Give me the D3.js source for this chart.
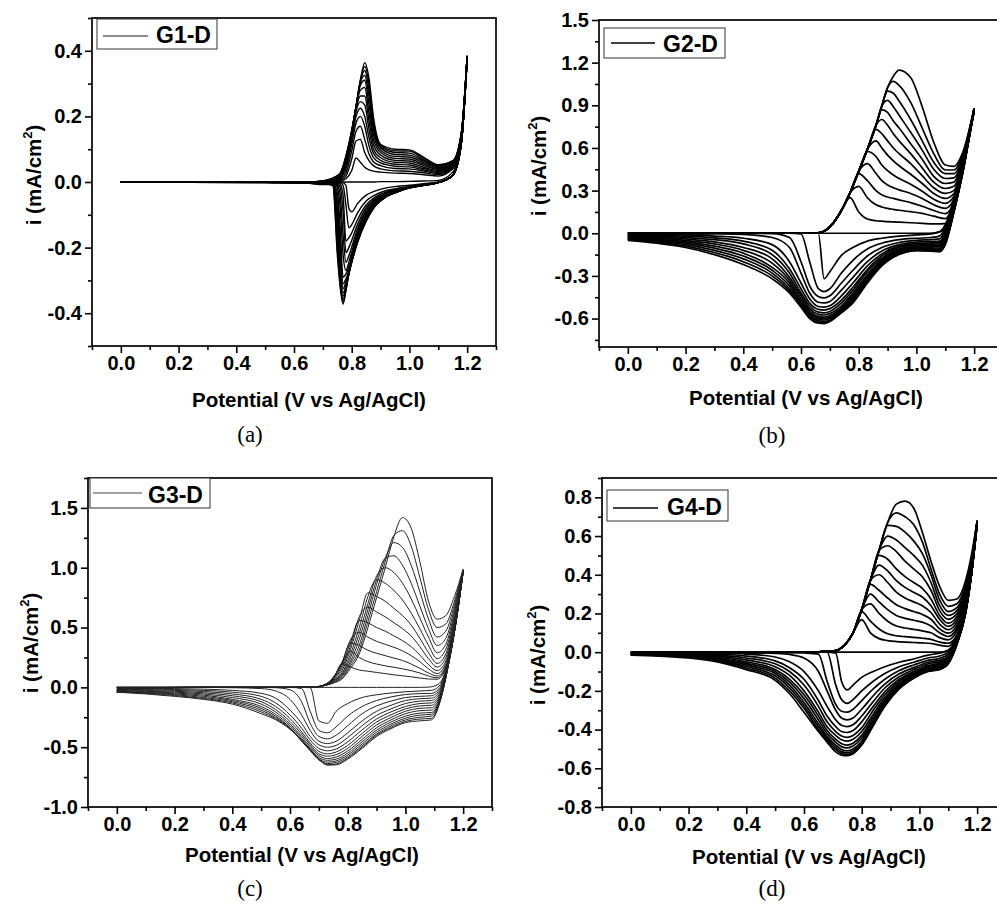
<!DOCTYPE html>
<html>
<head>
<meta charset="utf-8">
<script src="https://cdn.jsdelivr.net/npm/d3@7"></script>
<style>
  body { margin: 0; background: #fff; }
  svg { display: block; }
</style>
</head>
<body>
<svg id="fig" width="997" height="905"></svg>
<script>
// ---- shared axis values ----
var xTicks = [0, 0.2, 0.4, 0.6, 0.8, 1.0, 1.2];
var xMinor = [-0.1, 0.1, 0.3, 0.5, 0.7, 0.9, 1.1, 1.3];
var yTicksA = [-0.4, -0.2, 0, 0.2, 0.4];
var yMinorA = [-0.5, -0.3, -0.1, 0.1, 0.3, 0.5];
var yTicksB = [-0.6, -0.3, 0, 0.3, 0.6, 0.9, 1.2, 1.5];
var yMinorB = [-0.75, -0.45, -0.15, 0.15, 0.45, 0.75, 1.05, 1.35];
var yTicksC = [-1.0, -0.5, 0, 0.5, 1.0, 1.5];
var yMinorC = [-0.75, -0.25, 0.25, 0.75, 1.25, 1.75];
var yTicksD = [-0.8, -0.6, -0.4, -0.2, 0, 0.2, 0.4, 0.6, 0.8];
var yMinorD = [-0.7, -0.5, -0.3, -0.1, 0.1, 0.3, 0.5, 0.7, 0.9];
var legendNames = ["G1-D", "G2-D", "G3-D", "G4-D"];
var captions = ["(a)", "(b)", "(c)", "(d)"];
var xTitle = "Potential (V vs Ag/AgCl)";

// ---- G1-D : potentials (V) and currents (mA/cm2), one row per cycle ----
var potA_fwd = [0, 0.5, 0.65, 0.7, 0.73, 0.76, 0.78, 0.8, 0.815, 0.83, 0.845, 0.86, 0.875, 0.9, 0.95, 1.0, 1.05, 1.1, 1.15, 1.18, 1.2];
var iA_fwd = [
  [0,0,0,0,0,0,0,0,0,0,0,0,0,.001,.001,.002,.003,.005,.03,.13,.37],
  [0,0,0,0,.001,.003,.01,.035,.073,.06,.045,.037,.033,.03,.027,.026,.022,.018,.04,.14,.375],
  [0,0,0,0,.001,.005,.018,.07,.125,.13,.09,.065,.05,.04,.034,.033,.028,.022,.043,.14,.375],
  [0,0,0,.001,.002,.008,.028,.095,.155,.17,.13,.085,.062,.05,.041,.04,.033,.026,.045,.14,.377],
  [0,0,0,.001,.002,.011,.04,.115,.18,.2,.17,.11,.075,.058,.048,.046,.037,.029,.047,.142,.378],
  [0,0,0,.001,.003,.014,.05,.13,.2,.225,.2,.135,.088,.066,.054,.052,.041,.032,.049,.143,.379],
  [0,0,0,.001,.004,.017,.058,.14,.215,.245,.235,.16,.1,.074,.06,.058,.045,.035,.051,.144,.38],
  [0,0,0,.001,.005,.019,.064,.145,.222,.262,.262,.185,.115,.082,.066,.064,.05,.038,.053,.145,.381],
  [0,0,0,.002,.006,.021,.068,.15,.228,.28,.288,.21,.13,.09,.072,.07,.054,.041,.055,.146,.382],
  [0,0,0,.002,.007,.023,.071,.152,.23,.295,.31,.235,.145,.097,.078,.076,.059,.044,.057,.147,.383],
  [0,0,0,.002,.008,.024,.073,.154,.23,.303,.325,.26,.16,.104,.084,.082,.063,.047,.059,.148,.383],
  [0,0,0,.003,.009,.025,.075,.155,.23,.307,.34,.28,.175,.108,.09,.088,.067,.049,.061,.149,.384],
  [0,0,0,.003,.01,.026,.077,.156,.23,.31,.352,.3,.188,.112,.095,.094,.071,.051,.063,.15,.385],
  [0,0,0,.003,.01,.027,.08,.158,.23,.31,.364,.315,.2,.115,.1,.098,.075,.053,.065,.15,.385]
];
var potA_rev = [0, 0.5, 0.65, 0.7, 0.72, 0.735, 0.75, 0.76, 0.77, 0.78, 0.79, 0.8, 0.82, 0.85, 0.88, 0.92, 0.96, 1.0, 1.05, 1.1, 1.15, 1.18, 1.2];
var iA_rev = [
  [0,0,0,0,0,0,0,0,-.002,-.01,-.08,-.091,-.066,-.04,-.028,-.018,-.013,-.01,-.005,0,.02,.12,.37],
  [0,0,0,0,0,0,0,-.002,-.01,-.07,-.14,-.13,-.095,-.058,-.04,-.026,-.019,-.014,-.007,-.001,.02,.12,.375],
  [0,0,0,0,0,0,-.002,-.006,-.04,-.18,-.17,-.155,-.115,-.07,-.047,-.03,-.021,-.015,-.008,-.001,.02,.12,.375],
  [0,0,0,0,0,-.001,-.004,-.015,-.09,-.215,-.2,-.178,-.13,-.078,-.052,-.033,-.023,-.016,-.008,-.001,.02,.12,.377],
  [0,0,0,0,-.001,-.002,-.008,-.04,-.16,-.245,-.225,-.198,-.143,-.085,-.056,-.035,-.024,-.016,-.009,-.002,.02,.12,.378],
  [0,0,-.001,-.001,-.002,-.003,-.015,-.08,-.22,-.27,-.245,-.213,-.153,-.092,-.06,-.037,-.025,-.017,-.009,-.002,.02,.12,.379],
  [0,0,-.001,-.002,-.002,-.004,-.03,-.14,-.29,-.28,-.26,-.225,-.161,-.097,-.063,-.039,-.026,-.017,-.009,-.002,.02,.12,.38],
  [0,-.001,-.001,-.002,-.003,-.005,-.05,-.19,-.31,-.295,-.27,-.233,-.167,-.102,-.066,-.04,-.027,-.017,-.01,-.002,.02,.12,.381],
  [0,-.001,-.002,-.003,-.003,-.006,-.08,-.23,-.325,-.305,-.275,-.238,-.172,-.106,-.068,-.041,-.028,-.017,-.01,-.002,.02,.12,.382],
  [0,-.001,-.002,-.004,-.004,-.007,-.11,-.26,-.338,-.315,-.28,-.241,-.176,-.109,-.07,-.042,-.028,-.018,-.01,-.002,.02,.12,.383],
  [0,-.001,-.002,-.005,-.005,-.008,-.14,-.285,-.348,-.32,-.28,-.243,-.179,-.112,-.072,-.043,-.029,-.018,-.01,-.002,.02,.12,.383],
  [0,-.002,-.003,-.006,-.006,-.009,-.17,-.3,-.358,-.325,-.28,-.244,-.181,-.115,-.073,-.044,-.029,-.018,-.01,-.002,.02,.12,.384],
  [0,-.002,-.003,-.007,-.007,-.01,-.2,-.31,-.366,-.33,-.28,-.245,-.183,-.118,-.074,-.045,-.03,-.018,-.01,-.002,.02,.12,.385],
  [0,-.002,-.004,-.008,-.008,-.012,-.22,-.32,-.372,-.33,-.28,-.245,-.185,-.12,-.075,-.045,-.03,-.018,-.01,-.002,.02,.12,.385]
];

// ---- G2-D ----
var potB_fwd = [0, 0.05, 0.3, 0.6, 0.66, 0.7, 0.74, 0.77, 0.8, 0.83, 0.86, 0.88, 0.9, 0.92, 0.94, 0.98, 1.02, 1.06, 1.1, 1.13, 1.16, 1.2];
var iB_fwd = [
  [0,0,0,0,0,0,0,0,0,0,0,0,0,0,0,0,0,.002,.03,.2,.45,.86],
  [0,0,0,0,.003,.045,.16,.25,.15,.1,.088,.085,.082,.08,.078,.074,.07,.066,.068,.2,.45,.86],
  [0,0,0,0,.003,.045,.16,.285,.33,.25,.2,.185,.175,.168,.162,.152,.14,.12,.103,.21,.45,.86],
  [0,0,0,0,.003,.045,.16,.285,.42,.37,.3,.27,.255,.245,.235,.215,.19,.16,.138,.22,.455,.865],
  [-.005,-.002,0,0,.003,.045,.16,.285,.435,.49,.42,.37,.34,.32,.305,.28,.245,.2,.175,.24,.46,.865],
  [-.01,-.003,0,0,.003,.045,.16,.285,.435,.575,.54,.48,.44,.41,.385,.345,.295,.24,.21,.26,.47,.87],
  [-.015,-.004,0,0,.003,.045,.16,.285,.435,.59,.65,.6,.55,.51,.475,.415,.35,.28,.245,.28,.48,.87],
  [-.02,-.005,0,0,.003,.045,.16,.285,.435,.59,.73,.7,.65,.6,.56,.49,.405,.32,.28,.3,.49,.87],
  [-.025,-.006,0,0,.003,.045,.16,.285,.435,.59,.76,.8,.76,.7,.65,.56,.46,.36,.315,.33,.5,.875],
  [-.03,-.007,0,0,.003,.045,.16,.285,.435,.59,.76,.87,.85,.79,.74,.63,.52,.4,.35,.36,.51,.875],
  [-.035,-.008,0,0,.003,.045,.16,.285,.435,.59,.76,.895,.935,.89,.83,.71,.585,.45,.385,.39,.52,.875],
  [-.04,-.009,0,0,.003,.045,.16,.285,.435,.59,.76,.895,1.0,.985,.93,.8,.65,.5,.42,.42,.535,.88],
  [-.045,-.01,0,0,.003,.045,.16,.285,.435,.59,.76,.895,1.025,1.068,1.04,.92,.74,.56,.445,.445,.55,.88],
  [-.05,-.011,0,0,.003,.045,.16,.285,.435,.59,.76,.895,1.025,1.105,1.148,1.095,.89,.64,.48,.47,.565,.88]
];
var potB_rev = [0, 0.1, 0.2, 0.3, 0.4, 0.5, 0.56, 0.6, 0.63, 0.66, 0.68, 0.7, 0.74, 0.78, 0.83, 0.88, 0.94, 1.0, 1.05, 1.08, 1.1, 1.13, 1.16, 1.2];
var iB_rev = [
  [0,0,0,0,0,0,0,0,0,0,-.32,-.27,-.155,-.1,-.055,-.035,-.02,-.012,-.005,.01,.06,.24,.47,.86],
  [0,0,0,0,0,0,0,-.005,-.2,-.39,-.41,-.39,-.28,-.19,-.11,-.07,-.045,-.035,-.03,-.02,.04,.23,.46,.86],
  [0,0,0,0,0,-.002,-.03,-.2,-.37,-.445,-.455,-.44,-.35,-.26,-.16,-.1,-.065,-.05,-.045,-.04,.02,.22,.46,.865],
  [0,0,-.002,-.004,-.008,-.03,-.1,-.28,-.42,-.485,-.49,-.48,-.4,-.31,-.2,-.125,-.08,-.063,-.058,-.055,0,.21,.45,.865],
  [-.005,-.008,-.012,-.02,-.035,-.08,-.2,-.35,-.46,-.515,-.52,-.51,-.44,-.35,-.23,-.145,-.09,-.073,-.068,-.065,-.01,.2,.45,.87],
  [-.01,-.014,-.02,-.032,-.055,-.12,-.25,-.39,-.49,-.535,-.54,-.53,-.47,-.38,-.255,-.16,-.1,-.082,-.077,-.075,-.02,.19,.44,.87],
  [-.015,-.02,-.03,-.045,-.075,-.15,-.28,-.42,-.51,-.555,-.56,-.55,-.49,-.4,-.27,-.175,-.11,-.09,-.086,-.085,-.03,.18,.44,.87],
  [-.02,-.027,-.04,-.06,-.1,-.18,-.31,-.44,-.53,-.57,-.575,-.565,-.51,-.42,-.29,-.185,-.118,-.098,-.095,-.095,-.04,.175,.43,.875],
  [-.025,-.034,-.05,-.075,-.12,-.21,-.33,-.46,-.545,-.585,-.59,-.58,-.525,-.435,-.305,-.195,-.126,-.105,-.103,-.104,-.05,.17,.43,.875],
  [-.03,-.041,-.06,-.09,-.14,-.24,-.35,-.48,-.56,-.595,-.6,-.59,-.535,-.45,-.315,-.205,-.133,-.11,-.11,-.112,-.058,.165,.43,.875],
  [-.035,-.048,-.07,-.105,-.16,-.26,-.37,-.49,-.57,-.605,-.61,-.6,-.545,-.46,-.325,-.213,-.138,-.115,-.115,-.118,-.064,.16,.425,.88],
  [-.04,-.055,-.08,-.12,-.18,-.28,-.39,-.5,-.58,-.615,-.62,-.61,-.55,-.47,-.335,-.22,-.142,-.118,-.119,-.123,-.07,.155,.425,.88],
  [-.045,-.062,-.09,-.135,-.2,-.3,-.405,-.51,-.59,-.625,-.628,-.615,-.555,-.475,-.343,-.225,-.146,-.12,-.122,-.127,-.075,.15,.42,.88],
  [-.05,-.07,-.1,-.15,-.22,-.32,-.42,-.52,-.6,-.633,-.636,-.62,-.56,-.49,-.35,-.23,-.15,-.122,-.125,-.13,-.08,.15,.42,.88]
];

// ---- G3-D ----
var potC_fwd = [0, 0.05, 0.3, 0.6, 0.68, 0.72, 0.75, 0.78, 0.81, 0.84, 0.87, 0.9, 0.93, 0.96, 0.99, 1.02, 1.05, 1.08, 1.11, 1.14, 1.17, 1.2];
var iC_fwd = [
  [0,0,0,0,0,0,0,0,0,0,0,0,0,0,0,0,0,.002,.02,.14,.47,.96],
  [0,0,0,0,.002,.02,.07,.2,.17,.145,.135,.125,.115,.105,.097,.088,.078,.07,.068,.16,.48,.965],
  [-.003,-.001,0,0,.002,.022,.08,.2,.3,.25,.215,.195,.18,.168,.155,.14,.12,.095,.08,.17,.49,.965],
  [-.008,-.002,0,0,.002,.022,.085,.21,.37,.35,.31,.285,.265,.245,.225,.195,.16,.12,.095,.18,.5,.97],
  [-.012,-.002,0,0,.002,.022,.08,.2,.4,.46,.42,.385,.36,.335,.305,.265,.215,.155,.115,.2,.52,.97],
  [-.017,-.003,0,0,.002,.021,.075,.18,.38,.56,.54,.5,.47,.43,.39,.34,.27,.19,.14,.22,.54,.97],
  [-.022,-.003,0,0,.002,.02,.07,.16,.35,.59,.67,.63,.59,.54,.49,.43,.34,.24,.17,.25,.56,.97],
  [-.026,-.004,0,0,.002,.02,.065,.14,.32,.56,.79,.76,.72,.66,.6,.52,.41,.29,.2,.28,.58,.97],
  [-.03,-.004,0,0,.002,.019,.06,.12,.28,.5,.76,.9,.87,.81,.73,.62,.49,.35,.24,.32,.6,.975],
  [-.033,-.005,0,0,.002,.018,.055,.11,.25,.45,.7,.93,1.0,.96,.87,.74,.58,.42,.29,.36,.63,.975],
  [-.036,-.005,0,0,.002,.017,.05,.1,.22,.4,.65,.9,1.08,1.1,1.02,.87,.68,.49,.35,.41,.66,.98],
  [-.039,-.006,0,0,.002,.016,.045,.09,.2,.35,.6,.86,1.08,1.21,1.17,1.02,.8,.57,.42,.47,.69,.98],
  [-.042,-.006,0,0,.002,.015,.04,.08,.18,.31,.55,.8,1.05,1.27,1.31,1.18,.92,.65,.5,.53,.72,.985],
  [-.045,-.007,0,0,.002,.015,.035,.07,.16,.28,.5,.75,1.0,1.26,1.42,1.33,1.05,.72,.57,.6,.76,.99]
];
var potC_rev = [0, 0.1, 0.2, 0.3, 0.4, 0.5, 0.55, 0.6, 0.64, 0.67, 0.7, 0.73, 0.76, 0.8, 0.85, 0.9, 0.95, 1.0, 1.05, 1.09, 1.12, 1.15, 1.18, 1.2];
var iC_rev = [
  [0,0,0,0,0,0,0,0,0,-.003,-.28,-.3,-.2,-.135,-.085,-.062,-.047,-.037,-.03,-.025,.02,.25,.64,.96],
  [0,0,0,0,0,0,0,0,-.01,-.2,-.36,-.38,-.33,-.24,-.16,-.11,-.08,-.06,-.052,-.05,0,.24,.63,.965],
  [0,0,0,0,0,0,-.003,-.02,-.12,-.3,-.41,-.43,-.4,-.32,-.22,-.155,-.115,-.085,-.075,-.07,-.015,.23,.63,.965],
  [0,0,0,0,-.003,-.01,-.03,-.1,-.23,-.36,-.45,-.47,-.45,-.38,-.28,-.2,-.15,-.11,-.095,-.09,-.03,.22,.63,.97],
  [-.005,-.007,-.01,-.015,-.025,-.05,-.09,-.19,-.3,-.41,-.48,-.5,-.485,-.42,-.32,-.235,-.18,-.135,-.115,-.11,-.045,.22,.625,.97],
  [-.01,-.013,-.018,-.025,-.04,-.075,-.13,-.23,-.34,-.44,-.51,-.53,-.515,-.455,-.355,-.265,-.205,-.16,-.135,-.13,-.06,.215,.625,.97],
  [-.015,-.019,-.025,-.035,-.055,-.1,-.16,-.26,-.37,-.465,-.535,-.555,-.54,-.485,-.385,-.29,-.23,-.18,-.155,-.15,-.07,.21,.625,.975],
  [-.02,-.025,-.033,-.045,-.07,-.12,-.185,-.285,-.39,-.48,-.555,-.575,-.562,-.51,-.41,-.315,-.252,-.2,-.175,-.17,-.08,.21,.62,.975],
  [-.025,-.031,-.04,-.055,-.085,-.14,-.205,-.305,-.41,-.495,-.57,-.595,-.582,-.532,-.435,-.338,-.272,-.22,-.195,-.19,-.09,.205,.62,.975],
  [-.028,-.036,-.047,-.065,-.1,-.16,-.225,-.32,-.425,-.51,-.585,-.61,-.6,-.55,-.455,-.358,-.29,-.24,-.215,-.21,-.1,.205,.62,.975],
  [-.032,-.041,-.054,-.075,-.11,-.175,-.24,-.335,-.44,-.52,-.597,-.625,-.615,-.566,-.473,-.375,-.307,-.257,-.232,-.225,-.105,.2,.62,.98],
  [-.035,-.046,-.061,-.085,-.12,-.19,-.252,-.34,-.45,-.53,-.607,-.637,-.628,-.58,-.488,-.39,-.322,-.272,-.25,-.24,-.11,.2,.62,.98],
  [-.038,-.05,-.068,-.093,-.13,-.205,-.262,-.345,-.445,-.525,-.6,-.647,-.64,-.592,-.5,-.4,-.335,-.285,-.265,-.258,-.115,.2,.62,.98],
  [-.04,-.055,-.075,-.1,-.14,-.22,-.27,-.35,-.44,-.52,-.6,-.65,-.648,-.6,-.51,-.41,-.345,-.295,-.28,-.272,-.12,.2,.62,.98]
];

// ---- G4-D ----
var potD_fwd = [0, 0.3, 0.6, 0.7, 0.74, 0.77, 0.8, 0.83, 0.86, 0.89, 0.92, 0.95, 0.98, 1.01, 1.04, 1.07, 1.1, 1.13, 1.16, 1.18, 1.2];
var iD_fwd = [
  [0,0,0,0,0,0,0,0,0,0,0,0,0,0,0,0,.01,.08,.22,.4,.66],
  [0,0,0,.005,.035,.1,.168,.1,.07,.06,.055,.052,.05,.048,.045,.036,.03,.085,.225,.4,.66],
  [-.002,0,0,.005,.035,.1,.21,.16,.12,.095,.085,.08,.076,.072,.066,.052,.046,.09,.23,.41,.66],
  [-.003,0,0,.005,.035,.1,.22,.25,.2,.16,.135,.125,.118,.11,.1,.075,.064,.11,.24,.41,.665],
  [-.005,-.001,0,.005,.035,.1,.22,.3,.26,.22,.19,.175,.165,.155,.135,.1,.081,.125,.25,.415,.665],
  [-.006,-.001,0,.005,.035,.1,.22,.35,.32,.28,.245,.225,.21,.195,.17,.12,.098,.14,.26,.42,.67],
  [-.008,-.001,0,.005,.035,.1,.22,.37,.4,.36,.31,.28,.26,.24,.205,.145,.116,.155,.27,.425,.67],
  [-.009,-.001,0,.005,.035,.1,.22,.37,.45,.42,.37,.335,.31,.285,.24,.17,.133,.17,.28,.43,.67],
  [-.01,-.002,0,.005,.035,.1,.22,.37,.5,.48,.43,.39,.36,.33,.275,.19,.15,.185,.29,.435,.672],
  [-.012,-.002,0,.005,.035,.1,.22,.37,.525,.55,.52,.47,.43,.39,.32,.215,.17,.2,.3,.44,.674],
  [-.013,-.002,0,.005,.035,.1,.22,.37,.525,.6,.58,.54,.5,.45,.36,.24,.19,.215,.315,.45,.676],
  [-.014,-.002,0,.005,.035,.1,.22,.37,.525,.655,.65,.62,.575,.51,.4,.27,.21,.23,.33,.46,.678],
  [-.015,-.002,0,.005,.035,.1,.22,.37,.525,.67,.72,.7,.66,.57,.43,.3,.237,.25,.35,.48,.68],
  [-.015,-.002,0,.005,.035,.1,.22,.37,.525,.67,.765,.78,.745,.62,.47,.34,.268,.275,.37,.5,.68]
];
var potD_rev = [0, 0.1, 0.2, 0.3, 0.4, 0.5, 0.55, 0.6, 0.65, 0.68, 0.71, 0.73, 0.75, 0.77, 0.8, 0.84, 0.88, 0.93, 0.98, 1.03, 1.07, 1.1, 1.13, 1.16, 1.18, 1.2];
var iD_rev = [
  [0,0,0,0,0,0,0,0,0,0,-.005,-.15,-.195,-.17,-.13,-.1,-.075,-.052,-.035,-.015,-.005,.01,.07,.23,.41,.66],
  [0,0,0,0,0,0,0,0,0,0,-.17,-.245,-.265,-.245,-.2,-.15,-.11,-.075,-.052,-.03,-.02,0,.065,.225,.405,.665],
  [0,0,0,0,0,0,-.002,-.004,-.01,-.15,-.27,-.305,-.31,-.295,-.25,-.19,-.14,-.095,-.066,-.042,-.032,-.01,.06,.22,.4,.665],
  [0,0,0,0,-.002,-.006,-.012,-.03,-.1,-.2,-.3,-.34,-.35,-.34,-.295,-.225,-.165,-.112,-.08,-.052,-.042,-.02,.058,.218,.4,.67],
  [-.002,-.002,-.003,-.005,-.01,-.025,-.05,-.1,-.2,-.28,-.35,-.378,-.385,-.375,-.33,-.255,-.185,-.127,-.09,-.06,-.05,-.025,.055,.215,.4,.67],
  [-.003,-.004,-.006,-.01,-.02,-.045,-.08,-.14,-.25,-.33,-.385,-.41,-.415,-.405,-.36,-.28,-.205,-.14,-.1,-.068,-.058,-.03,.053,.213,.4,.67],
  [-.005,-.006,-.009,-.015,-.03,-.06,-.1,-.17,-.28,-.36,-.41,-.433,-.44,-.43,-.39,-.3,-.22,-.15,-.107,-.074,-.064,-.035,.05,.21,.4,.672],
  [-.006,-.008,-.012,-.02,-.04,-.075,-.12,-.2,-.31,-.385,-.43,-.453,-.46,-.45,-.41,-.32,-.235,-.16,-.114,-.08,-.07,-.04,.048,.208,.4,.674],
  [-.008,-.01,-.015,-.025,-.05,-.09,-.14,-.22,-.33,-.405,-.45,-.473,-.48,-.47,-.43,-.335,-.247,-.167,-.12,-.085,-.075,-.045,.046,.206,.4,.675],
  [-.009,-.012,-.018,-.03,-.058,-.1,-.155,-.24,-.35,-.42,-.465,-.488,-.495,-.485,-.445,-.348,-.257,-.174,-.125,-.089,-.079,-.05,.045,.205,.4,.676],
  [-.01,-.014,-.021,-.035,-.066,-.11,-.17,-.26,-.37,-.435,-.48,-.503,-.51,-.5,-.46,-.36,-.265,-.18,-.128,-.093,-.083,-.053,.044,.204,.4,.677],
  [-.012,-.016,-.024,-.04,-.074,-.122,-.185,-.275,-.385,-.445,-.493,-.514,-.52,-.51,-.47,-.368,-.271,-.184,-.131,-.096,-.086,-.056,.043,.203,.4,.678],
  [-.013,-.018,-.027,-.045,-.082,-.134,-.2,-.29,-.4,-.455,-.504,-.523,-.528,-.518,-.475,-.375,-.276,-.187,-.133,-.098,-.088,-.058,.042,.202,.4,.679],
  [-.015,-.02,-.03,-.05,-.09,-.145,-.215,-.31,-.41,-.465,-.515,-.532,-.535,-.525,-.48,-.38,-.28,-.19,-.135,-.1,-.09,-.06,.04,.2,.4,.68]
];

// ---- layout of the four panels ----
var sans = "'Liberation Sans', Arial, Helvetica, sans-serif";
var serif = "'Liberation Serif', 'Times New Roman', serif";

var panels = [
  { left: 92, right: 496, top: 18, bottom: 346, yDomain: [-0.5, 0.5], yTicks: yTicksA, yMinor: yMinorA,
    fg: potA_fwd, fv: iA_fwd, rg: potA_rev, rv: iA_rev, color: "#000", lw: 1.4,
    box: [97, 19, 120, 30], legLine: [103, 148, 36], legColor: "#666", legW: 1.4, legText: [156, 43],
    yLab: [41, 175], xLab: [309, 407], cap: [250, 442] },
  { left: 599, right: 1003, top: 20, bottom: 347, yDomain: [-0.8, 1.5], yTicks: yTicksB, yMinor: yMinorB,
    fg: potB_fwd, fv: iB_fwd, rg: potB_rev, rv: iB_rev, color: "#000", lw: 1.7,
    box: [604, 28, 121, 30], legLine: [611, 655, 43], legColor: "#000", legW: 1.6, legText: [663, 52],
    yLab: [546, 166], xLab: [806, 405], cap: [772, 443] },
  { left: 88, right: 492, top: 478, bottom: 807, yDomain: [-1.0, 1.75], yTicks: yTicksC, yMinor: yMinorC,
    fg: potC_fwd, fv: iC_fwd, rg: potC_rev, rv: iC_rev, color: "#222", lw: 1.0,
    box: [90, 478, 120, 30], legLine: [93, 142, 493], legColor: "#444", legW: 1.0, legText: [148, 503],
    yLab: [38, 643], xLab: [302, 862], cap: [250, 896] },
  { left: 602, right: 1006, top: 478, bottom: 807, yDomain: [-0.8, 0.9], yTicks: yTicksD, yMinor: yMinorD,
    fg: potD_fwd, fv: iD_fwd, rg: potD_rev, rv: iD_rev, color: "#000", lw: 1.7,
    box: [607, 490, 121, 31], legLine: [613, 658, 508], legColor: "#000", legW: 1.6, legText: [667, 515],
    yLab: [545, 655], xLab: [809, 864], cap: [772, 896] }
];

var svg = d3.select("#fig");
var fmt = function(d) { return d.toFixed(1); };

panels.forEach(function(p, k) {
  var x = d3.scaleLinear().domain([-0.1, 1.3]).range([p.left, p.right]);
  var y = d3.scaleLinear().domain(p.yDomain).range([p.bottom, p.top]);
  var g = svg.append("g");

  var line = d3.line()
      .x(function(d) { return x(d[0]); })
      .y(function(d) { return y(d[1]); })
      .curve(d3.curveMonotoneX);

  var curves = g.append("g")
      .attr("fill", "none")
      .attr("stroke", p.color)
      .attr("stroke-width", p.lw)
      .attr("stroke-linejoin", "round");

  p.fv.forEach(function(vals) {
    curves.append("path").attr("d", line(d3.zip(p.fg, vals)));
  });
  p.rv.forEach(function(vals) {
    curves.append("path").attr("d", line(d3.zip(p.rg, vals)));
  });

  // frame
  g.append("rect")
      .attr("x", p.left).attr("y", p.top)
      .attr("width", p.right - p.left).attr("height", p.bottom - p.top)
      .attr("fill", "none").attr("stroke", "#000").attr("stroke-width", 1.7);

  function styleAxis(a) {
    a.select(".domain").remove();
    a.selectAll("line").attr("stroke-width", 1.6);
    a.attr("font-family", sans).attr("font-size", 20).attr("font-weight", "bold");
  }

  g.append("g").attr("transform", "translate(0," + p.bottom + ")")
      .call(d3.axisBottom(x).tickValues(xTicks).tickSize(7).tickSizeOuter(0).tickFormat(fmt))
      .call(styleAxis);
  g.append("g").attr("transform", "translate(0," + p.bottom + ")")
      .call(d3.axisBottom(x).tickValues(xMinor).tickSize(4).tickSizeOuter(0).tickFormat(""))
      .call(styleAxis);
  g.append("g").attr("transform", "translate(" + p.left + ",0)")
      .call(d3.axisLeft(y).tickValues(p.yTicks).tickSize(7).tickSizeOuter(0).tickFormat(fmt))
      .call(styleAxis);
  g.append("g").attr("transform", "translate(" + p.left + ",0)")
      .call(d3.axisLeft(y).tickValues(p.yMinor).tickSize(4).tickSizeOuter(0).tickFormat(""))
      .call(styleAxis);

  // legend
  g.append("rect")
      .attr("x", p.box[0]).attr("y", p.box[1]).attr("width", p.box[2]).attr("height", p.box[3])
      .attr("fill", "#fff").attr("stroke", "#333").attr("stroke-width", 1);
  g.append("line")
      .attr("x1", p.legLine[0]).attr("x2", p.legLine[1]).attr("y1", p.legLine[2]).attr("y2", p.legLine[2])
      .attr("stroke", p.legColor).attr("stroke-width", p.legW);
  g.append("text")
      .attr("x", p.legText[0]).attr("y", p.legText[1])
      .attr("font-family", sans).attr("font-size", 23).attr("font-weight", "bold")
      .text(legendNames[k]);

  // axis titles
  g.append("text")
      .attr("x", p.xLab[0]).attr("y", p.xLab[1])
      .attr("text-anchor", "middle")
      .attr("font-family", sans).attr("font-size", 20.5).attr("font-weight", "bold")
      .text(xTitle);

  var yl = g.append("text")
      .attr("transform", "translate(" + p.yLab[0] + "," + p.yLab[1] + ") rotate(-90)")
      .attr("text-anchor", "middle")
      .attr("font-family", sans).attr("font-size", 20.5).attr("font-weight", "bold");
  yl.append("tspan").text("i (mA/cm");
  yl.append("tspan").attr("dy", -9).attr("font-size", 13).text("2");
  yl.append("tspan").attr("dy", 9).text(")");

  // caption
  g.append("text")
      .attr("x", p.cap[0]).attr("y", p.cap[1])
      .attr("text-anchor", "middle")
      .attr("font-family", serif).attr("font-size", 23)
      .text(captions[k]);
});
</script>
</body>
</html>
